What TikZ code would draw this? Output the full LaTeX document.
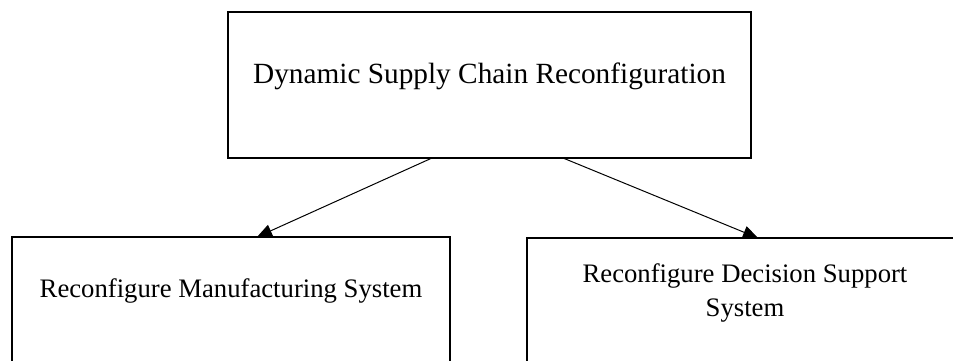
\documentclass[tikz,border=0pt]{standalone}
\usepackage{fontspec}
\setmainfont{Liberation Serif}
\usetikzlibrary{arrows.meta}

\tikzset{
  box/.style={draw, line width=2pt, minimum width=#1, inner sep=0pt, outer sep=0pt, anchor=north west},
  lbl/.style={font=\fontsize{26.7}{34}\selectfont, inner sep=0pt, anchor=base, align=center},
  arr/.style={line width=1pt, -{Triangle[length=15pt,width=13pt]}}
}

\begin{document}
\begin{tikzpicture}[x=1pt, y=-1pt]
  \useasboundingbox (0,0) rectangle (953,360);
  \clip (0,0) rectangle (953,360);

  % boxes
  \node[box=523pt, minimum height=146pt] (dscr) at (228,12) {};
  \node[box=438pt, minimum height=170pt] (rms) at (12,237) {};
  \node[box=436pt, minimum height=170pt] (rdss) at (527,238) {};

  % captions (a multi-line node sits on the baseline of its last line)
  \node[lbl, font=\fontsize{29.3}{36}\selectfont] (tdscr) at (489.5,83) {Dynamic Supply Chain Reconfiguration};
  \node[lbl] (trms) at (231,297) {Reconfigure Manufacturing System};
  \node[lbl] (trdss) at (745,316) {Reconfigure Decision Support\\System};

  % links
  \draw[arr] ([xshift=204pt]dscr.south west) -- ([xshift=245pt]rms.north west);
  \draw[arr] ([xshift=335pt]dscr.south west) -- ([xshift=231pt]rdss.north west);
\end{tikzpicture}
\end{document}
